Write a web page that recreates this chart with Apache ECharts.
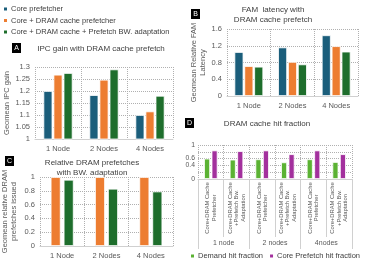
<!DOCTYPE html>
<html><head><meta charset="utf-8">
<script src="https://cdn.jsdelivr.net/npm/echarts@6/dist/echarts.min.js"></script>
<style>html,body{margin:0;padding:0;background:#fff}#c{width:365px;height:269px}</style>
</head><body><div id="c"></div>
<script>
const nodes = ['1 Node', '2 Nodes', '4 Nodes'];
const seriesNames = ['Core prefetcher', 'Core + DRAM cache prefetcher', 'Core + DRAM cache + Prefetch BW. adaptation'];
const ipcCore = [1.2, 1.183, 1.1];
const ipcDram = [1.268, 1.247, 1.115];
const ipcBw = [1.275, 1.29, 1.18];
const famCore = [1.05, 1.16, 1.45];
const famDram = [0.715, 0.815, 1.19];
const famBw = [0.70, 0.755, 1.06];
const pfDram = [1, 1, 1];
const pfBw = [0.96, 0.83, 0.79];
const hitCats = ['Core+DRAM Cache\nPrefetcher', 'Core+DRAM Cache\n+Prefetch Bw.\nAdaptation',
                 'Core+DRAM Cache\nPrefetcher', 'Core+DRAM Cache\n+Prefetch Bw.\nAdaptation',
                 'Core+DRAM Cache\nPrefetcher', 'Core+DRAM Cache\n+Prefetch Bw.\nAdaptation'];
const hitGroups = ['1 node', '2 nodes', '4nodes'];
const hitNames = ['Demand hit fraction', 'Core Prefetch hit fraction'];
const hitTicks = [0, 0.2, 0.4, 0.6, 0.8, 1];
const demandHit = [0.60, 0.57, 0.58, 0.49, 0.58, 0.50];
const prefHit = [0.84, 0.82, 0.84, 0.73, 0.84, 0.73];

const FONT = '"Liberation Sans Narrow", "Liberation Sans", sans-serif';
const C_BLUE = '#1b5e7b', C_ORANGE = '#ed7d31', C_GREEN = '#1e6e2c', C_LGREEN = '#5bb233', C_PURPLE = '#a3309d';
const LBL = '#595959';
const dotted = {show: true, lineStyle: {color: '#b0b0b0', type: [1, 1], width: 1}};

function yAx(grid, min, max, interval, name, nameGap) {
  return {type: 'value', gridIndex: grid, min, max, interval,
    name, nameLocation: 'middle', nameGap, nameRotate: 90,
    nameTextStyle: {fontFamily: FONT, fontSize: 7.5, color: LBL, lineHeight: 9},
    axisLine: {show: false}, axisTick: {show: false},
    axisLabel: {fontFamily: FONT, fontSize: 7.5, color: LBL, margin: 5, showMinLabel: true, showMaxLabel: true, hideOverlap: false},
    splitLine: dotted};
}
function xAx(grid, data, margin) {
  return {type: 'category', gridIndex: grid, data,
    axisLine: {show: true, lineStyle: {color: '#d0d0d0'}}, axisTick: {show: false},
    axisLabel: {fontFamily: FONT, fontSize: 7.5, color: LBL, margin},
    splitLine: dotted};
}
function bar(name, x, data, color, bw, gap) {
  return {name, type: 'bar', xAxisIndex: x, yAxisIndex: x, data, barWidth: bw, barGap: gap,
    itemStyle: {color, borderColor: '#ffffff', borderWidth: 0.8}, animation: false};
}
function tag(letter, x, y) {
  return {type: 'group', left: x, top: y, children: [
    {type: 'rect', shape: {x: 0, y: 0, width: 9, height: 10}, style: {fill: '#000'}},
    {type: 'text', style: {text: letter, x: 4.5, y: 5, fill: '#fff', font: '7px ' + FONT, textAlign: 'center', textVerticalAlign: 'middle'}}
  ]};
}
const titleStyle = {fontFamily: FONT, fontSize: 8, fontWeight: 'normal', color: '#404040', lineHeight: 10};

const chart = echarts.init(document.getElementById('c'), null, {renderer: 'canvas'});
chart.setOption({
  animation: false,
  textStyle: {fontFamily: FONT},
  grid: [
    {left: 35, top: 67, width: 138, height: 72, outerBoundsMode: 'none'},
    {left: 227, top: 29, width: 131, height: 67, outerBoundsMode: 'none'},
    {left: 40, top: 177, width: 133, height: 69, outerBoundsMode: 'none'},
    {left: 198, top: 145, width: 154, height: 34, outerBoundsMode: 'none'},
    {left: 198, top: 145, width: 154, height: 34, outerBoundsMode: 'none'}
  ],
  title: [
    {text: 'IPC gain with DRAM cache prefetch', left: 101, top: 44, padding: 0, textAlign: 'center', textStyle: titleStyle},
    {text: 'FAM  latency with\nDRAM cache prefetch', left: 273, top: 5, padding: 0, textAlign: 'center', textStyle: titleStyle},
    {text: 'Relative DRAM prefetches\nwith BW. adaptation', left: 92, top: 158, padding: 0, textAlign: 'center', textStyle: titleStyle},
    {text: 'DRAM cache hit fraction', left: 267, top: 119, padding: 0, textAlign: 'center', textStyle: titleStyle}
  ],
  legend: [
    {data: seriesNames, orient: 'vertical', left: 2, top: 5, itemGap: 3.5, itemWidth: 5, itemHeight: 5,
     icon: 'rect', padding: 0, textStyle: {fontFamily: FONT, fontSize: 7.5, color: '#404040', padding: [0, 0, 0, -2]}},
    {data: hitNames, orient: 'horizontal', left: 189, top: 252, itemGap: 5, itemWidth: 5, itemHeight: 5,
     icon: 'rect', padding: 0, textStyle: {fontFamily: FONT, fontSize: 7.5, color: '#404040', padding: [0, 0, 0, -2]}}
  ],
  graphic: [tag('A', 12, 43), tag('B', 191, 9), tag('C', 5, 156), tag('D', 185, 118)],
  xAxis: [
    xAx(0, nodes, 6),
    xAx(1, nodes, 6),
    xAx(2, nodes, 6),
    {type: 'category', gridIndex: 3, data: hitCats,
     axisLine: {show: true, lineStyle: {color: '#d0d0d0'}},
     axisTick: {show: true, length: 58, lineStyle: {color: '#d0d0d0'}},
     axisLabel: {fontFamily: FONT, fontSize: 5.8, lineHeight: 6.5, color: LBL, rotate: 90,
                 margin: 4, interval: 0, overflow: 'none', width: 50, hideOverlap: false,
                 formatter: v => v.split('\n').map(s => '{a|' + s + '}').join('\n'),
                 rich: {a: {fontFamily: FONT, fontSize: 5.8, lineHeight: 6.5, color: LBL, width: 50, align: 'center'}}},
     splitLine: dotted},
    {type: 'category', gridIndex: 3, data: hitGroups, position: 'bottom',
     axisLine: {show: false},
     axisTick: {show: true, length: 70, lineStyle: {color: '#d0d0d0'}},
     axisLabel: {fontFamily: FONT, fontSize: 7, color: LBL, margin: 61},
     splitLine: {show: false}},
    {type: 'category', gridIndex: 4, data: hitCats, show: false}
  ],
  yAxis: [
    yAx(0, 1, 1.3, 0.05, 'Geomean IPC gain', 20),
    yAx(1, 0, 1.6, 0.4, 'Geomean Relative FAM\nLatency', 18),
    yAx(2, 0, 1, 0.2, 'Geomean relative DRAM\nprefetches issued', 22),
    Object.assign(yAx(3, 0, 1, 0.2, '', 0), {axisLabel: {show: false}}),
    {type: 'value', gridIndex: 4, min: 0, max: 1, interval: 0.2,
     axisLine: {show: false}, axisTick: {show: false}, splitLine: {show: false},
     axisLabel: {fontFamily: FONT, fontSize: 6.8, lineHeight: 6, color: LBL, margin: 3,
                 customValues: hitTicks, showMinLabel: true, showMaxLabel: true, hideOverlap: false}}
  ],
  series: [
    bar(seriesNames[0], 0, ipcCore, C_BLUE, 9, '12%'),
    bar(seriesNames[1], 0, ipcDram, C_ORANGE, 9, '12%'),
    bar(seriesNames[2], 0, ipcBw, C_GREEN, 9, '12%'),
    bar(seriesNames[0], 1, famCore, C_BLUE, 9, '10%'),
    bar(seriesNames[1], 1, famDram, C_ORANGE, 9, '10%'),
    bar(seriesNames[2], 1, famBw, C_GREEN, 9, '10%'),
    bar(seriesNames[1], 2, pfDram, C_ORANGE, 10, '30%'),
    bar(seriesNames[2], 2, pfBw, C_GREEN, 10, '30%'),
    bar(hitNames[0], 3, demandHit, C_LGREEN, 6, '25%'),
    bar(hitNames[1], 3, prefHit, C_PURPLE, 6, '25%')
  ]
});
</script></body></html>
